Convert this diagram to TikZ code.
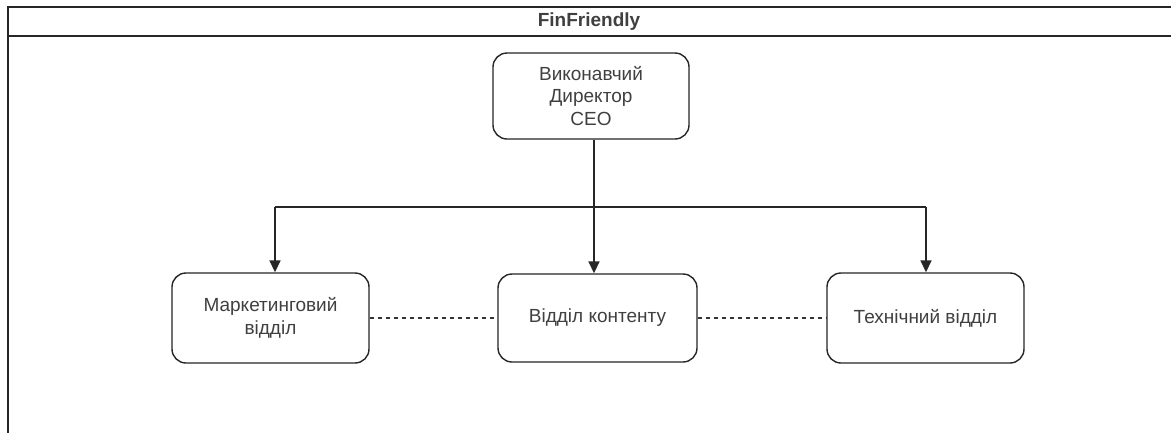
\documentclass[tikz,border=0pt]{standalone}
\usepackage{fontspec}
\setmainfont{Liberation Sans}
\usetikzlibrary{arrows.meta}
\tikzset{
  unitbox/.style={draw=black!85, line width=1.4pt, rounded corners=14pt, fill=white,
    align=center, text=black!75, font=\fontsize{19}{22.5}\selectfont, inner sep=0pt},
  conn/.style={draw=black!85, line width=1.6pt},
  arr/.style={conn, -{Triangle[length=12pt,width=11pt]}},
  dashline/.style={draw=black!80, line width=1.1pt, dash pattern=on 4pt off 4pt},
  frameline/.style={draw=black!85, line width=1.5pt}
}
\begin{document}
\begin{tikzpicture}[x=1pt,y=-1pt]
\useasboundingbox (0,0) rectangle (1171,432);
\fill[white] (0,0) rectangle (1171,432);
% outer frame (extends beyond picture on right and bottom)
\draw[frameline] (8,450) -- (8,7) -- (1190,7);
\draw[frameline] (8,36) -- (1190,36);
\node[font=\bfseries\fontsize{19}{22}\selectfont, text=black!75] (title) at (589,22) {FinFriendly};
% nodes
\node[unitbox, minimum width=196pt, minimum height=86pt] (ceo) at (591,96) {Виконавчий\\Директор\\CEO};
\node[unitbox, minimum width=197pt, minimum height=90pt] (mkt) at (270.5,318) {Маркетинговий\\відділ};
\node[unitbox, minimum width=199pt, minimum height=88pt] (cont) at (597.5,318) {Відділ контенту};
\node[unitbox, minimum width=197pt, minimum height=90pt] (tech) at (925.5,318) {Технічний відділ};
% junctions
\coordinate (jc) at (594,207);
\coordinate (jl) at (275,207);
\coordinate (jr) at (926,207);
% connectors
\draw[conn] (ceo.south -| jc) -- (jc);
\draw[conn] (jl) -- (jr);
\draw[arr] (jc) -- (cont.north -| jc);
\draw[arr] (jl) -- (mkt.north -| jl);
\draw[arr] (jr) -- (tech.north -| jr);
\draw[dashline] (mkt.east) -- (cont.west);
\draw[dashline] (cont.east) -- (tech.west);
\end{tikzpicture}
\end{document}
